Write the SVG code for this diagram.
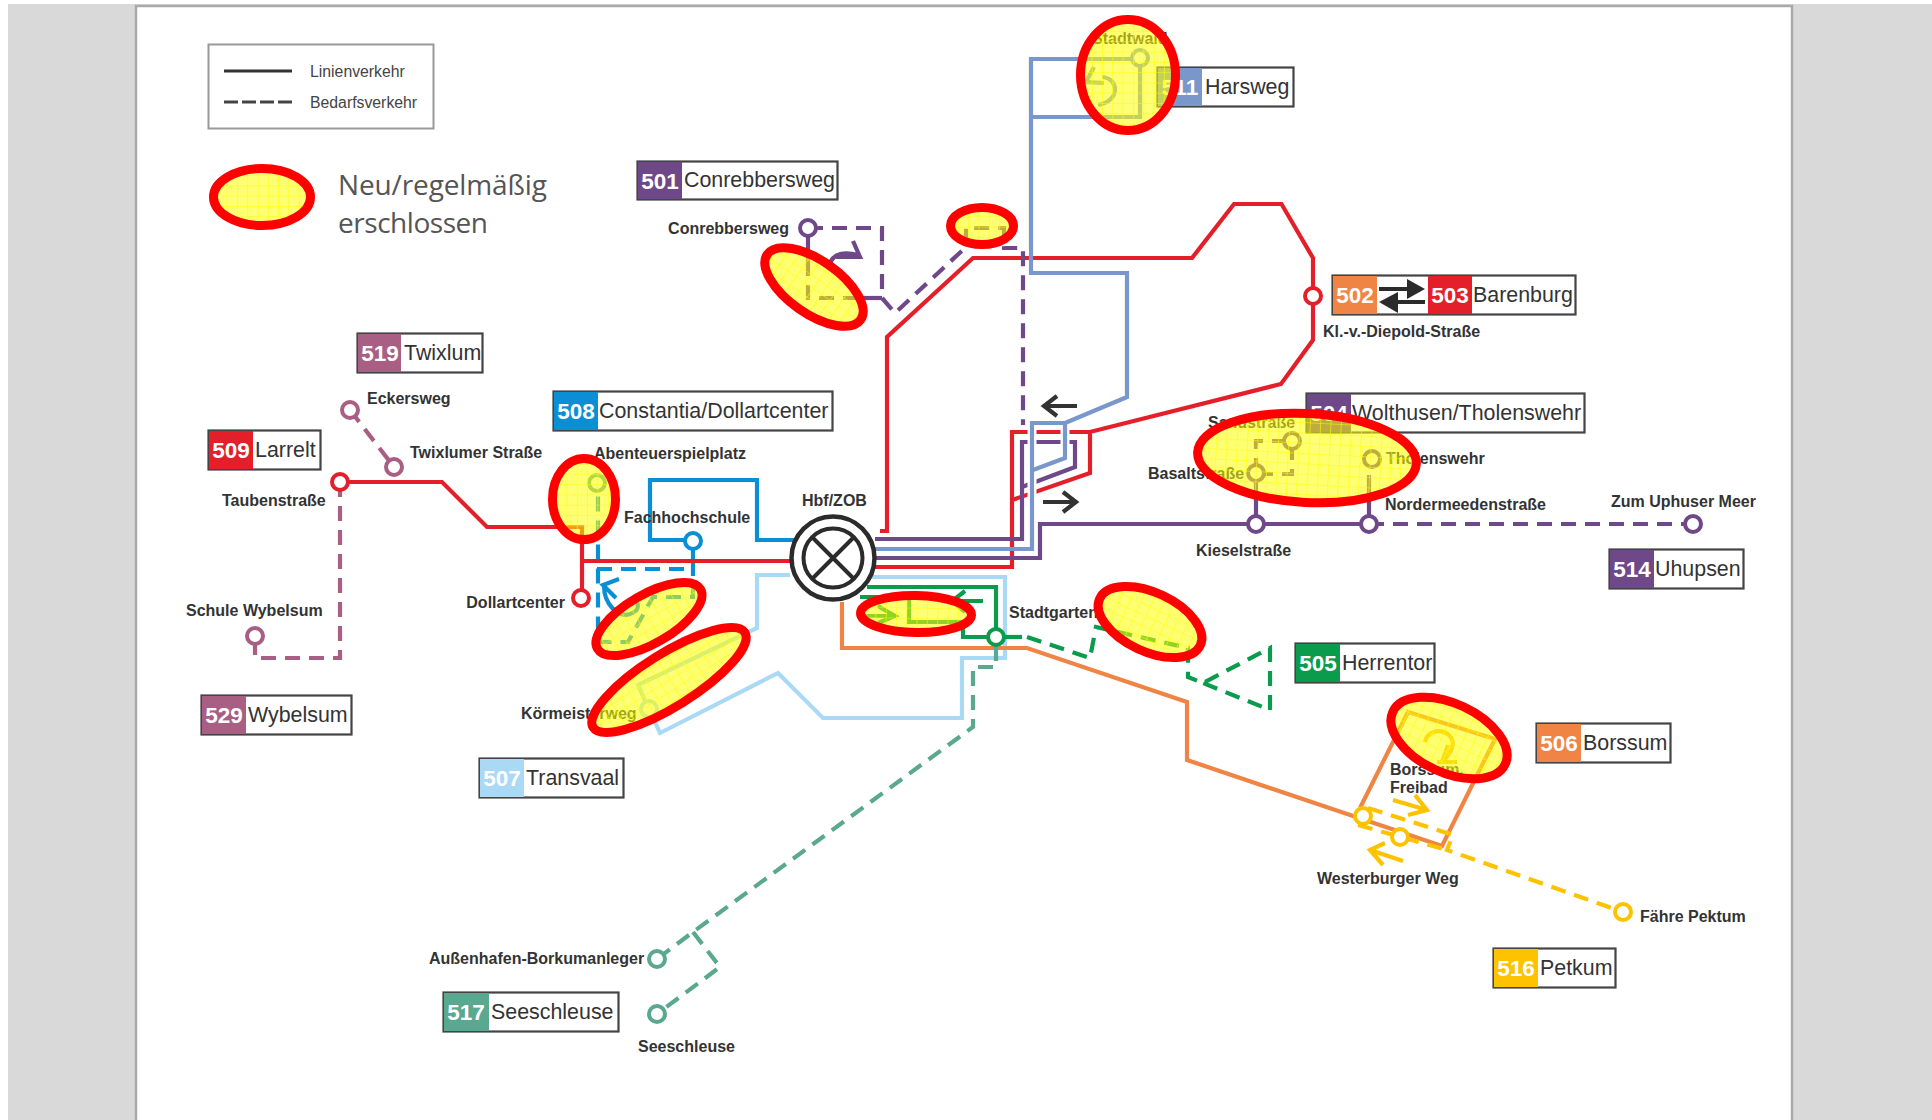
<svg xmlns="http://www.w3.org/2000/svg" width="1932" height="1120" viewBox="0 0 1932 1120">
<style>
text{font-family:"Liberation Sans",Arial,sans-serif}
.st{font-size:16px;font-weight:bold;fill:#333}
.nm{font-size:22.5px;font-weight:bold;fill:#fff;text-anchor:middle}
.lb{font-size:21.4px;fill:#333;transform:translateY(-1px)}
.box{fill:#fff;stroke:#444;stroke-width:2.2}
.l{fill:none;stroke-width:4.2;stroke-linejoin:miter}
.d{stroke-dasharray:15 9}
.p501{stroke:#6f4889}.p511{stroke:#7a97cc}.red{stroke:#e41f2a}.or{stroke:#f08445}.gr{stroke:#0b9b4c}.lbl{stroke:#a9d9f5}.bl{stroke:#0a8fd4}.ye{stroke:#fdc300}.te{stroke:#5aa88f}.ro{stroke:#a85f83}
.halo{fill:none;stroke:#fff;stroke-width:9}
.c{fill:#fff;stroke-width:4}
.arr{fill:none;stroke:#333;stroke-width:4.2}
.hl{fill:url(#grid);stroke:#f00;stroke-width:9}
</style>
<defs>
<pattern id="grid" patternUnits="userSpaceOnUse" width="10.3" height="10.3">
<rect width="10.3" height="10.3" fill="#ff0" fill-opacity=".55"/>
<path d="M0 0H10.3M0 0V10.3" stroke="#ff0" stroke-width="1.1" fill="none"/>
</pattern>
</defs>
<g id="page">
<rect x="8" y="4" width="1924" height="1116" fill="#d9d9d9"/>
<rect x="136" y="6" width="1656" height="1114" fill="#fff"/>
<path d="M136 1120V6H1792V1120" fill="none" stroke="#aaa" stroke-width="2.5"/>
</g>
<g id="legend">
<rect x="208.500" y="44.500" width="225" height="84" fill="#fff" stroke="#999" stroke-width="2"/>
<path d="M224 71H292" stroke="#333" stroke-width="3" fill="none"/>
<path d="M224 102H292" stroke="#444" stroke-width="3" fill="none" stroke-dasharray="14 4"/>
<text x="310" y="77" font-size="15.8" fill="#444">Linienverkehr</text>
<text x="310" y="108" font-size="15.8" fill="#444">Bedarfsverkehr</text>
<text x="338" y="195" font-size="28" fill="#555" style="font-family:'Open Sans',sans-serif" textLength="209">Neu/regelmäßig</text>
<text x="338" y="233" font-size="28" fill="#555" style="font-family:'Open Sans',sans-serif" textLength="150">erschlossen</text>
</g>
<g id="connectors">
<path class="l lbl" d="M790 575H757V628L638 685L649 709L660 733L778 673L823 718H962V658H1005V577H860"/>
<path class="l or" d="M842 602V648H1027L1187 702V760L1442 846L1495 739L1408 712L1360 808"/>
<path class="l gr" d="M860 597H909V622H963V637H996V587H867"/>
<path class="l gr d" d="M1027 637L1090 658L1096 627L1188 648V677L1203 683L1270 648V710L1203 683"/>
<path class="l gr" d="M996 637H1022"/>
<path class="l gr" d="M983 601H952M965 591L952 601L965 612M865 616H895M878 606L895 616L878 623"/>
<path class="l te d" d="M996 646V667H973V727L693 932L657 959M693 932L720 967L657 1014"/>
<path class="l bl" d="M795 540H757V480H650V540H693V561"/>
<path class="l bl d" d="M693 561V597H653L628 642H598V483M597 569H693"/>
<path class="l bl" d="M619 579L603 585L616 598M604 586C604 604 618 618 630 614C642 610 637 602 636 600"/>
<path class="l red" d="M340 482H442L487 527H582V598M582 561H795"/>
<path class="l red" d="M880 531H887V337L973 258H1192L1234 204H1281.500L1313 258V340L1281 384L1090 432H1012V567H870M1090 432V473L1012 500"/>
<path class="l ro d" d="M350 410L394 467"/>
<path class="l ro d" d="M340 482V658H255V636"/>
<path class="l p501" d="M808 228V262"/>
<path class="l p501 d" d="M808 228H882V298H808V262"/>
<path class="l p501" d="M860 298H882"/>
<path class="l p501 d" d="M882 298L895 313L966 247V228H1004V248H1023V425"/>
<path class="l p501" d="M829 270C829 256 840 250 858 255M853 241L860 257L836 257"/>
<path class="l p501" d="M875 539H1022V442H1075V467L1022 487"/>
<path class="l p501" d="M875 558H1040V524H1369"/>
<path class="l p501 d" d="M1369 524H1693"/>
<path class="l p501" d="M1256 524V473M1369 524V475"/>
<path class="l p501 d" d="M1256 473V441H1292V474H1256"/>
<path class="l ye d" d="M1368 808L1453 835L1447 850L1623 912M1358 825L1447 850"/>
<path class="l ye" d="M1393 800L1427 810M1415 795L1427 810L1408 815M1403 861L1370 850M1385 843L1370 850L1383 865"/>
<path class="l ye" d="M1425 742C1427 732 1438 729 1446 733C1456 739 1455 750 1442 762M1448 745L1442 762L1456 762M1437 762H1457" style="stroke:#f5b51f"/>
<path class="halo" d="M1032 420V555M1065 423V458L1032 470"/>
<path class="l p511" d="M870 549H1032V423H1065V458L1033 470M1065 423L1127 397V273H1031V59H1140V117H1031"/>
<path class="l p511" d="M1102 77C1118 78 1122 100 1098 105M1094 67L1086 82L1104 83"/>
<path class="arr" d="M1077 406H1044M1057 396L1044 406L1057 416M1043 502H1076M1063 492L1076 502L1063 512"/>
</g>
<g id="stops">
<g id="hub">
<circle cx="833" cy="558" r="41.500" fill="#fff" stroke="#2b2b2b" stroke-width="4.500"/>
<circle cx="833" cy="558" r="29.500" fill="#fff" stroke="#2b2b2b" stroke-width="4"/>
<path d="M812 537L854 579M854 537L812 579" stroke="#2b2b2b" stroke-width="4" fill="none"/>
</g>
<circle id="s-conrebbersweg" class="c p501" cx="808" cy="228" r="8"/>
<circle id="s-stadtwald" class="c p511" cx="1140" cy="58" r="8"/>
<circle id="s-diepold" class="c red" cx="1313" cy="296" r="8"/>
<circle id="s-eckersweg" class="c ro" cx="350" cy="410" r="8"/>
<circle id="s-twixlumer" class="c ro" cx="394" cy="467" r="8"/>
<circle id="s-tauben" class="c red" cx="340" cy="482" r="8"/>
<circle id="s-schule" class="c ro" cx="255" cy="636" r="8"/>
<circle id="s-dollart" class="c red" cx="581" cy="598" r="8"/>
<circle id="s-abenteuer" class="c te" cx="597" cy="483" r="8"/>
<circle id="s-fachhochschule" class="c bl" cx="693" cy="541" r="8"/>
<circle id="s-koermeister" class="c lbl" cx="649" cy="709" r="8"/>
<circle id="s-stadtgarten" class="c gr" cx="996" cy="637" r="8"/>
<circle id="s-kiesel" class="c p501" cx="1256" cy="524" r="8"/>
<circle id="s-norder" class="c p501" cx="1369" cy="524" r="8"/>
<circle id="s-uphuser" class="c p501" cx="1693" cy="524" r="8"/>
<circle id="s-basalt" class="c p501" cx="1256" cy="473" r="8"/>
<circle id="s-sand" class="c p501" cx="1292" cy="441" r="8"/>
<circle id="s-tholens" class="c p501" cx="1372" cy="459" r="8"/>
<circle id="s-westerburg1" class="c ye" cx="1363" cy="816" r="8"/>
<circle id="s-westerburg2" class="c ye" cx="1400" cy="837" r="8"/>
<circle id="s-pektum" class="c ye" cx="1623" cy="912" r="8"/>
<circle id="s-aussenhafen" class="c te" cx="657" cy="959" r="8"/>
<circle id="s-seeschleuse" class="c te" cx="657" cy="1014" r="8"/>
</g>
<g id="station-labels">
<text class="st" x="789" y="234" text-anchor="end">Conrebbersweg</text>
<text class="st" x="367" y="404">Eckersweg</text>
<text class="st" x="410" y="458">Twixlumer Straße</text>
<text class="st" x="594" y="459">Abenteuerspielplatz</text>
<text class="st" x="222" y="506">Taubenstraße</text>
<text class="st" x="624" y="523">Fachhochschule</text>
<text class="st" x="802" y="506">Hbf/ZOB</text>
<text class="st" x="565" y="608" text-anchor="end">Dollartcenter</text>
<text class="st" x="186" y="616">Schule Wybelsum</text>
<text class="st" x="521" y="719">Körmeisterweg</text>
<text class="st" x="1009" y="618">Stadtgarten</text>
<text class="st" x="1092" y="44">Stadtwald</text>
<text class="st" x="1208" y="428">Sandstraße</text>
<text class="st" x="1148" y="479">Basaltstraße</text>
<text class="st" x="1386" y="464">Tholenswehr</text>
<text class="st" x="1385" y="510">Nordermeedenstraße</text>
<text class="st" x="1196" y="556">Kieselstraße</text>
<text class="st" x="1611" y="507">Zum Uphuser Meer</text>
<text class="st" x="1323" y="337">Kl.-v.-Diepold-Straße</text>
<text class="st" x="1390" y="775">Borssum,</text>
<text class="st" x="1390" y="793">Freibad</text>
<text class="st" x="1317" y="884">Westerburger Weg</text>
<text class="st" x="1640" y="922">Fähre Pektum</text>
<text class="st" x="429" y="964">Außenhafen-Borkumanleger</text>
<text class="st" x="638" y="1052">Seeschleuse</text>
</g>
<g id="line-501"><rect class="box" x="637.500" y="161.500" width="200" height="38"/><rect x="638" y="162" width="44" height="37" fill="#6f4889"/><text class="nm" x="660" y="189">501</text><text class="lb" x="684" y="188">Conrebbersweg</text></g>
<g id="line-511"><rect class="box" x="1157.500" y="67.500" width="136" height="39"/><rect x="1158" y="68" width="44" height="38" fill="#7a97cc"/><text class="nm" x="1180" y="95">511</text><text class="lb" x="1205" y="95">Harsweg</text></g>
<g id="line-502-503"><rect class="box" x="1332.500" y="275.500" width="243" height="39"/><rect x="1333" y="276" width="44" height="38" fill="#f08445"/><rect x="1428" y="276" width="44" height="38" fill="#e41f2a"/><text class="nm" x="1355" y="303">502</text><text class="nm" x="1450" y="303">503</text><text class="lb" x="1473" y="303">Barenburg</text>
<path d="M1379 289H1410" stroke="#2b2b2b" stroke-width="4" fill="none"/><path d="M1425 289L1407 279V299Z" fill="#2b2b2b"/><path d="M1394 302H1425" stroke="#2b2b2b" stroke-width="4" fill="none"/><path d="M1379 302L1398 292V313Z" fill="#2b2b2b"/></g>
<g id="line-504"><rect class="box" x="1306.500" y="393.500" width="278" height="39"/><rect x="1307" y="394" width="44" height="38" fill="#6f4889"/><text class="nm" x="1329" y="421">504</text><text class="lb" x="1352" y="421">Wolthusen/Tholenswehr</text></g>
<g id="line-514"><rect class="box" x="1609.500" y="549.500" width="134" height="39"/><rect x="1610" y="550" width="44" height="38" fill="#6f4889"/><text class="nm" x="1632" y="577">514</text><text class="lb" x="1655" y="577">Uhupsen</text></g>
<g id="line-505"><rect class="box" x="1295.500" y="643.500" width="139" height="39"/><rect x="1296" y="644" width="44" height="38" fill="#0b9b4c"/><text class="nm" x="1318" y="671">505</text><text class="lb" x="1342" y="671">Herrentor</text></g>
<g id="line-506"><rect class="box" x="1536.500" y="723.500" width="134" height="39"/><rect x="1537" y="724" width="44" height="38" fill="#f08445"/><text class="nm" x="1559" y="751">506</text><text class="lb" x="1583" y="751">Borssum</text></g>
<g id="line-516"><rect class="box" x="1493.500" y="948.500" width="122" height="39"/><rect x="1494" y="949" width="44" height="38" fill="#fdc300"/><text class="nm" x="1516" y="976">516</text><text class="lb" x="1540" y="976">Petkum</text></g>
<g id="line-517"><rect class="box" x="443.500" y="992.500" width="175" height="39"/><rect x="444" y="993" width="45" height="38" fill="#5aa88f"/><text class="nm" x="466" y="1020">517</text><text class="lb" x="491" y="1020">Seeschleuse</text></g>
<g id="line-507"><rect class="box" x="479.500" y="758.500" width="144" height="39"/><rect x="480" y="759" width="44" height="38" fill="#a9d9f5"/><text class="nm" x="502" y="786">507</text><text class="lb" x="526" y="786">Transvaal</text></g>
<g id="line-529"><rect class="box" x="201.500" y="695.500" width="150" height="39"/><rect x="202" y="696" width="44" height="38" fill="#a85f83"/><text class="nm" x="224" y="723">529</text><text class="lb" x="248" y="723">Wybelsum</text></g>
<g id="line-509"><rect class="box" x="208.500" y="430.500" width="112" height="39"/><rect x="209" y="431" width="44" height="38" fill="#e41f2a"/><text class="nm" x="231" y="458">509</text><text class="lb" x="255" y="458">Larrelt</text></g>
<g id="line-519"><rect class="box" x="357.500" y="333.500" width="125" height="39"/><rect x="358" y="334" width="43" height="38" fill="#a85f83"/><text class="nm" x="380" y="361">519</text><text class="lb" x="404" y="361">Twixlum</text></g>
<g id="line-508"><rect class="box" x="553.500" y="391.500" width="279" height="39"/><rect x="554" y="392" width="44" height="38" fill="#0a8fd4"/><text class="nm" x="576" y="419">508</text><text class="lb" x="599" y="419">Constantia/Dollartcenter</text></g>
<g id="highlights">
<ellipse class="hl" cx="262" cy="197" rx="48.500" ry="28.500"/>
<ellipse class="hl" cx="1128" cy="75" rx="47.500" ry="55.500"/>
<ellipse class="hl" cx="982" cy="226" rx="31.500" ry="18.500"/>
<ellipse class="hl" cx="814" cy="287" rx="57" ry="26.500" transform="rotate(35 814 287)"/>
<ellipse class="hl" cx="584" cy="499" rx="31.500" ry="40.500"/>
<ellipse class="hl" cx="649" cy="619" rx="59.500" ry="24.500" transform="rotate(-30 649 619)"/>
<ellipse class="hl" cx="669" cy="680" rx="89.500" ry="26.500" transform="rotate(-32 669 680)"/>
<ellipse class="hl" cx="916" cy="614" rx="55.500" ry="18.500" transform="rotate(1 916 614)"/>
<ellipse class="hl" cx="1150" cy="622" rx="55.500" ry="29.500" transform="rotate(25 1150 622)"/>
<ellipse class="hl" cx="1307" cy="458" rx="109.500" ry="44.500" transform="rotate(3 1307 458)"/>
<ellipse class="hl" cx="1449" cy="738" rx="62" ry="34.500" transform="rotate(25 1449 738)"/>
</g>
</svg>
